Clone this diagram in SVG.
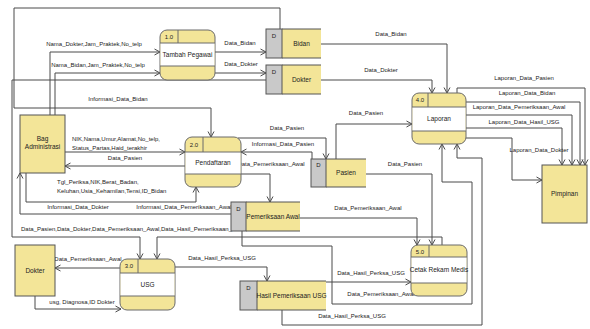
<svg xmlns="http://www.w3.org/2000/svg" width="590" height="329" viewBox="0 0 590 329">
<defs>
<style>
.bg{fill:#ffffff}
.proc{fill:#f3e598;stroke:#6b6b6b;stroke-width:1}
.pl{stroke:#6b6b6b;stroke-width:1}
.ext{fill:#f3e598;stroke:#555;stroke-width:1}
.sg{fill:#c9c9c9;stroke:#555;stroke-width:1}
.sy{fill:#f3e598}
.sl{stroke:#555;stroke-width:1}
.c{fill:none;stroke:#4a4a4a;stroke-width:1;marker-end:url(#arr)}
.cn{fill:none;stroke:#4a4a4a;stroke-width:1}
text{font-family:"Liberation Sans",Arial,sans-serif;font-size:6px;fill:#222}
.m{text-anchor:middle}
.n{font-size:6.5px}
</style>
<marker id="arr" markerUnits="userSpaceOnUse" markerWidth="8" markerHeight="8" refX="6" refY="3.5" orient="auto" overflow="visible">
<path d="M0.5,0.5 L6,3.5 L0.5,6.5" fill="none" stroke="#4a4a4a" stroke-width="1"/>
</marker>
</defs>
<rect class="bg" x="0" y="0" width="590" height="329"/>

<g id="connectors">
<path class="c" d="M50,115 V52 H160"/>
<path class="c" d="M55,115 V73 H160"/>
<path class="c" d="M215,52 H266"/>
<path class="c" d="M215,73 H266"/>
<path class="c" d="M280,29 V8 H14 V108 H211 V137"/>
<path class="c" d="M266,80 H12 V237 H140 V259"/>
<path class="c" d="M442,245 V237 H157 V259"/>
<path class="c" d="M321,44 H447 V93"/>
<path class="c" d="M321,80 H432 V93"/>
<path class="c" d="M65,152 H185"/>
<path class="c" d="M185,166 H65"/>
<path class="c" d="M26,173 V202 H196 V187"/>
<path class="c" d="M231,214 H20 V173"/>
<path class="c" d="M238,138 H326 V159"/>
<path class="c" d="M312,159 V152 H241"/>
<path class="c" d="M336,159 V124 H412"/>
<path class="c" d="M241,174 H270 V202"/>
<path class="c" d="M366,174 H432 V245"/>
<path class="c" d="M300,218 H417 V245"/>
<path class="c" d="M242,231 V246 H332 V304 H472 V182 H442 V144"/>
<path class="c" d="M120,268 H55"/>
<path class="c" d="M35,296 V309 H121"/>
<path class="c" d="M175,267 H267 V281"/>
<path class="c" d="M326,282 H411"/>
<path class="c" d="M282,310 V325 H482 V158 H457 V144"/>
<path class="c" d="M457,93 V88 H585 V165"/>
<path class="c" d="M466,102 H580 V165"/>
<path class="c" d="M466,115 H572 V165"/>
<path class="c" d="M466,128 H562 V165"/>
<path class="c" d="M466,138 H512 V180 H542"/>

<text class="m" x="94" y="46">Nama_Dokter,Jam_Praktek,No_telp</text>
<text class="m" x="98" y="67">Nama_Bidan,Jam_Praktek,No_telp</text>
<text class="m" x="118" y="101">Informasi_Data_Bidan</text>
<text class="m" x="240" y="45">Data_Bidan</text>
<text class="m" x="241" y="66">Data_Dokter</text>
<text class="m" x="391" y="36">Data_Bidan</text>
<text class="m" x="381" y="72">Data_Dokter</text>
<text x="72" y="141">NIK,Nama,Umur,Alamat,No_telp,</text>
<text x="72" y="150">Status_Partas,Haid_terakhir</text>
<text class="m" x="125" y="160">Data_Pasien</text>
<text x="57" y="184">Tgl_Periksa,NIK,Berat_Badan,</text>
<text x="57" y="193">Keluhan,Usia_Kehamilan,Tensi,ID_Bidan</text>
<text class="m" x="78" y="209">Informasi_Data_Dokter</text>
<text class="m" x="184" y="209">Informasi_Data_Pemeriksaan_Awal</text>
<text x="21" y="231">Data_Pasien,Data_Dokter,Data_Pemeriksaan_Awal,Data_Hasil_Pemeriksaan_USG</text>
<text class="m" x="287" y="130">Data_Pasien</text>
<text class="m" x="283" y="146">Informasi_Data_Pasien</text>
<text class="m" x="366" y="115">Data_Pasien</text>
<text class="m" x="271" y="166">Data_Pemeriksaan_Awal</text>
<text class="m" x="405" y="166">Data_Pasien</text>
<text class="m" x="368" y="210">Data_Pemeriksaan_Awal</text>
<text class="m" x="88" y="261">Data_Pemeriksaan_Awal</text>
<text class="m" x="82" y="304">usg, Diagnosa,ID Dokter</text>
<text class="m" x="222" y="260">Data_Hasil_Perksa_USG</text>
<text class="m" x="371" y="275">Data_Hasil_Perksa_USG</text>
<text class="m" x="381" y="296">Data_Pemeriksaan_Awal</text>
<text class="m" x="352" y="318">Data_Hasil_Perksa_USG</text>
<text class="m" x="524" y="80">Laporan_Data_Pasien</text>
<text class="m" x="527" y="95">Laporan_Data_Bidan</text>
<text class="m" x="519" y="109">Laporan_Data_Pemeriksaan_Awal</text>
<text class="m" x="524" y="124">Laporan_Data_Hasil_USG</text>
<text class="m" x="539" y="152">Laporan_Data_Dokter</text>
</g>

<g id="p1">
<rect class="proc" x="160" y="30" width="55" height="50" rx="7"/>
<rect x="160.5" y="43" width="54" height="23" fill="#fff"/>
<line class="pl" x1="160" y1="43" x2="215" y2="43"/>
<line class="pl" x1="160" y1="66" x2="215" y2="66"/>
<line class="pl" x1="178" y1="30" x2="178" y2="43"/>
<text class="m" x="169" y="39">1.0</text>
<text class="m n" x="187.5" y="57">Tambah Pegawai</text>
</g>
<g id="p2">
<rect class="proc" x="185" y="137" width="56" height="50" rx="7"/>
<rect x="185.5" y="152" width="55" height="22" fill="#fff"/>
<line class="pl" x1="185" y1="152" x2="241" y2="152"/>
<line class="pl" x1="185" y1="174" x2="241" y2="174"/>
<line class="pl" x1="203" y1="137" x2="203" y2="152"/>
<text class="m" x="194" y="147">2.0</text>
<text class="m n" x="213" y="165">Pendaftaran</text>
</g>
<g id="p3">
<rect class="proc" x="120" y="259" width="55" height="51" rx="7"/>
<rect x="120.5" y="273" width="54" height="23" fill="#fff"/>
<line class="pl" x1="120" y1="273" x2="175" y2="273"/>
<line class="pl" x1="120" y1="296" x2="175" y2="296"/>
<line class="pl" x1="138" y1="259" x2="138" y2="273"/>
<text class="m" x="129" y="268">3.0</text>
<text class="m n" x="147.5" y="287">USG</text>
</g>
<g id="p4">
<rect class="proc" x="412" y="93" width="54" height="51" rx="7"/>
<rect x="412.5" y="107" width="53" height="24" fill="#fff"/>
<line class="pl" x1="412" y1="107" x2="466" y2="107"/>
<line class="pl" x1="412" y1="131" x2="466" y2="131"/>
<line class="pl" x1="428" y1="93" x2="428" y2="107"/>
<text class="m" x="420" y="102">4.0</text>
<text class="m n" x="439" y="121">Laporan</text>
</g>
<g id="p5">
<rect class="proc" x="411" y="245" width="56" height="51" rx="7"/>
<rect x="411.5" y="257" width="55" height="26" fill="#fff"/>
<line class="pl" x1="411" y1="257" x2="467" y2="257"/>
<line class="pl" x1="411" y1="283" x2="467" y2="283"/>
<line class="pl" x1="429" y1="245" x2="429" y2="257"/>
<text class="m" x="420" y="254">5.0</text>
<text class="m n" x="439" y="272">Cetak Rekam Medis</text>
</g>

<g id="s-bidan">
<rect class="sy" x="282" y="29" width="39" height="29"/>
<line class="sl" x1="282" y1="29" x2="321" y2="29"/>
<line class="sl" x1="282" y1="58" x2="321" y2="58"/>
<rect class="sg" x="266" y="29" width="16" height="29"/>
<text class="m" x="274" y="38">D</text>
<text class="m n" x="301.5" y="46">Bidan</text>
</g>
<g id="s-dokter">
<rect class="sy" x="282" y="65" width="39" height="29"/>
<line class="sl" x1="282" y1="65" x2="321" y2="65"/>
<line class="sl" x1="282" y1="94" x2="321" y2="94"/>
<rect class="sg" x="266" y="65" width="16" height="29"/>
<text class="m" x="274" y="74">D</text>
<text class="m n" x="301.5" y="82">Dokter</text>
</g>
<g id="s-pasien">
<rect class="sy" x="326" y="159" width="40" height="28"/>
<line class="sl" x1="326" y1="159" x2="366" y2="159"/>
<line class="sl" x1="326" y1="187" x2="366" y2="187"/>
<rect class="sg" x="311" y="159" width="15" height="28"/>
<text class="m" x="318.5" y="167">D</text>
<text class="m n" x="346" y="175">Pasien</text>
</g>
<g id="s-pemeriksaan">
<rect class="sy" x="246" y="202" width="54" height="29"/>
<line class="sl" x1="246" y1="202" x2="300" y2="202"/>
<line class="sl" x1="246" y1="231" x2="300" y2="231"/>
<rect class="sg" x="231" y="202" width="15" height="29"/>
<text class="m" x="238.5" y="211">D</text>
<text class="m n" x="273" y="219">Pemeriksaan Awal</text>
</g>
<g id="s-hasil">
<rect class="sy" x="257" y="281" width="69" height="29"/>
<line class="sl" x1="257" y1="281" x2="326" y2="281"/>
<line class="sl" x1="257" y1="310" x2="326" y2="310"/>
<rect class="sg" x="240" y="281" width="17" height="29"/>
<text class="m" x="248.5" y="290">D</text>
<text class="m n" x="291.5" y="298">Hasil Pemeriksaan USG</text>
</g>

<g id="e-bag">
<rect class="ext" x="20" y="115" width="45" height="58"/>
<text class="m n" x="42.5" y="141">Bag</text>
<text class="m n" x="42.5" y="149">Administrasi</text>
</g>
<g id="e-dokter">
<rect class="ext" x="15" y="245" width="40" height="51"/>
<text class="m n" x="35" y="273">Dokter</text>
</g>
<g id="e-pimpinan">
<rect class="ext" x="542" y="165" width="45" height="58"/>
<text class="m n" x="564.5" y="196">Pimpinan</text>
</g>
</svg>
